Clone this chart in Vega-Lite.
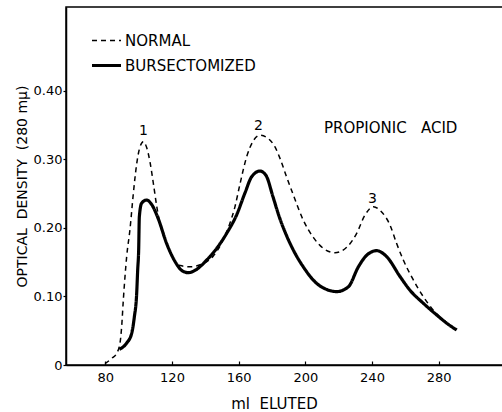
{
  "$schema": "https://vega.github.io/schema/vega-lite/v6.json",
  "width": 437,
  "height": 358,
  "autosize": {"type": "none"},
  "padding": {"left": 66, "top": 7, "right": 0, "bottom": 47},
  "background": "white",
  "config": {
    "view": {"stroke": "black", "strokeWidth": 1.5},
    "font": "DejaVu Sans",
    "axis": {"domainColor": "black", "domainWidth": 1.5, "tickColor": "black", "labelColor": "black", "titleColor": "black", "grid": false, "titleFontWeight": "normal", "labelFont": "DejaVu Sans", "titleFont": "DejaVu Sans"}
  },
  "datasets": {
    "curves": [
      {"ml": 79.8, "od": 0.002, "series": "NORMAL"},
      {"ml": 84.0, "od": 0.010, "series": "NORMAL"},
      {"ml": 86.8, "od": 0.017, "series": "NORMAL"},
      {"ml": 88.8, "od": 0.032, "series": "NORMAL"},
      {"ml": 89.8, "od": 0.056, "series": "NORMAL"},
      {"ml": 90.8, "od": 0.095, "series": "NORMAL"},
      {"ml": 91.8, "od": 0.129, "series": "NORMAL"},
      {"ml": 92.8, "od": 0.158, "series": "NORMAL"},
      {"ml": 94.8, "od": 0.198, "series": "NORMAL"},
      {"ml": 96.8, "od": 0.250, "series": "NORMAL"},
      {"ml": 98.8, "od": 0.293, "series": "NORMAL"},
      {"ml": 100.8, "od": 0.318, "series": "NORMAL"},
      {"ml": 102.8, "od": 0.3255, "series": "NORMAL"},
      {"ml": 104.8, "od": 0.317, "series": "NORMAL"},
      {"ml": 106.8, "od": 0.296, "series": "NORMAL"},
      {"ml": 108.8, "od": 0.265, "series": "NORMAL"},
      {"ml": 110.8, "od": 0.232, "series": "NORMAL"},
      {"ml": 112.5, "od": 0.209, "series": "NORMAL"},
      {"ml": 116.8, "od": 0.177, "series": "NORMAL"},
      {"ml": 121.8, "od": 0.151, "series": "NORMAL"},
      {"ml": 125.0, "od": 0.145, "series": "NORMAL"},
      {"ml": 130.8, "od": 0.1433, "series": "NORMAL"},
      {"ml": 138.8, "od": 0.148, "series": "NORMAL"},
      {"ml": 144.8, "od": 0.159, "series": "NORMAL"},
      {"ml": 149.8, "od": 0.178, "series": "NORMAL"},
      {"ml": 154.8, "od": 0.207, "series": "NORMAL"},
      {"ml": 157.8, "od": 0.231, "series": "NORMAL"},
      {"ml": 160.8, "od": 0.264, "series": "NORMAL"},
      {"ml": 164.8, "od": 0.3036, "series": "NORMAL"},
      {"ml": 168.8, "od": 0.327, "series": "NORMAL"},
      {"ml": 172.8, "od": 0.335, "series": "NORMAL"},
      {"ml": 177.8, "od": 0.330, "series": "NORMAL"},
      {"ml": 181.8, "od": 0.318, "series": "NORMAL"},
      {"ml": 185.0, "od": 0.300, "series": "NORMAL"},
      {"ml": 188.5, "od": 0.276, "series": "NORMAL"},
      {"ml": 192.8, "od": 0.248, "series": "NORMAL"},
      {"ml": 198.8, "od": 0.211, "series": "NORMAL"},
      {"ml": 204.8, "od": 0.186, "series": "NORMAL"},
      {"ml": 210.8, "od": 0.170, "series": "NORMAL"},
      {"ml": 217.8, "od": 0.1637, "series": "NORMAL"},
      {"ml": 224.8, "od": 0.1716, "series": "NORMAL"},
      {"ml": 230.8, "od": 0.192, "series": "NORMAL"},
      {"ml": 235.8, "od": 0.2187, "series": "NORMAL"},
      {"ml": 240.8, "od": 0.2308, "series": "NORMAL"},
      {"ml": 245.0, "od": 0.225, "series": "NORMAL"},
      {"ml": 250.8, "od": 0.204, "series": "NORMAL"},
      {"ml": 254.8, "od": 0.177, "series": "NORMAL"},
      {"ml": 258.8, "od": 0.153, "series": "NORMAL"},
      {"ml": 264.8, "od": 0.124, "series": "NORMAL"},
      {"ml": 270.8, "od": 0.0996, "series": "NORMAL"},
      {"ml": 276.8, "od": 0.080, "series": "NORMAL"},
      {"ml": 282.8, "od": 0.0656, "series": "NORMAL"},
      {"ml": 289.8, "od": 0.052, "series": "NORMAL"},
      {"ml": 88.4, "od": 0.023, "series": "BURSECTOMIZED"},
      {"ml": 92.8, "od": 0.032, "series": "BURSECTOMIZED"},
      {"ml": 95.8, "od": 0.046, "series": "BURSECTOMIZED"},
      {"ml": 97.4, "od": 0.070, "series": "BURSECTOMIZED"},
      {"ml": 98.8, "od": 0.104, "series": "BURSECTOMIZED"},
      {"ml": 99.4, "od": 0.138, "series": "BURSECTOMIZED"},
      {"ml": 100.0, "od": 0.168, "series": "BURSECTOMIZED"},
      {"ml": 100.4, "od": 0.216, "series": "BURSECTOMIZED"},
      {"ml": 101.8, "od": 0.236, "series": "BURSECTOMIZED"},
      {"ml": 104.8, "od": 0.2405, "series": "BURSECTOMIZED"},
      {"ml": 107.8, "od": 0.234, "series": "BURSECTOMIZED"},
      {"ml": 111.8, "od": 0.213, "series": "BURSECTOMIZED"},
      {"ml": 116.8, "od": 0.177, "series": "BURSECTOMIZED"},
      {"ml": 121.8, "od": 0.151, "series": "BURSECTOMIZED"},
      {"ml": 125.8, "od": 0.138, "series": "BURSECTOMIZED"},
      {"ml": 129.8, "od": 0.1346, "series": "BURSECTOMIZED"},
      {"ml": 134.8, "od": 0.1395, "series": "BURSECTOMIZED"},
      {"ml": 140.8, "od": 0.153, "series": "BURSECTOMIZED"},
      {"ml": 146.8, "od": 0.170, "series": "BURSECTOMIZED"},
      {"ml": 152.8, "od": 0.192, "series": "BURSECTOMIZED"},
      {"ml": 158.8, "od": 0.219, "series": "BURSECTOMIZED"},
      {"ml": 163.8, "od": 0.251, "series": "BURSECTOMIZED"},
      {"ml": 167.8, "od": 0.2745, "series": "BURSECTOMIZED"},
      {"ml": 172.8, "od": 0.2828, "series": "BURSECTOMIZED"},
      {"ml": 176.5, "od": 0.276, "series": "BURSECTOMIZED"},
      {"ml": 180.5, "od": 0.246, "series": "BURSECTOMIZED"},
      {"ml": 184.5, "od": 0.215, "series": "BURSECTOMIZED"},
      {"ml": 188.5, "od": 0.190, "series": "BURSECTOMIZED"},
      {"ml": 192.5, "od": 0.169, "series": "BURSECTOMIZED"},
      {"ml": 198.8, "od": 0.143, "series": "BURSECTOMIZED"},
      {"ml": 206.8, "od": 0.119, "series": "BURSECTOMIZED"},
      {"ml": 212.0, "od": 0.111, "series": "BURSECTOMIZED"},
      {"ml": 218.8, "od": 0.107, "series": "BURSECTOMIZED"},
      {"ml": 225.8, "od": 0.114, "series": "BURSECTOMIZED"},
      {"ml": 231.8, "od": 0.143, "series": "BURSECTOMIZED"},
      {"ml": 236.8, "od": 0.160, "series": "BURSECTOMIZED"},
      {"ml": 242.8, "od": 0.1667, "series": "BURSECTOMIZED"},
      {"ml": 248.8, "od": 0.158, "series": "BURSECTOMIZED"},
      {"ml": 256.8, "od": 0.129, "series": "BURSECTOMIZED"},
      {"ml": 262.8, "od": 0.109, "series": "BURSECTOMIZED"},
      {"ml": 270.8, "od": 0.090, "series": "BURSECTOMIZED"},
      {"ml": 278.8, "od": 0.073, "series": "BURSECTOMIZED"},
      {"ml": 284.8, "od": 0.061, "series": "BURSECTOMIZED"},
      {"ml": 290.8, "od": 0.051, "series": "BURSECTOMIZED"}
    ],
    "notes": [
      {"ml": 102.8, "od": 0.341, "label": "1"},
      {"ml": 171.8, "od": 0.348, "label": "2"},
      {"ml": 240.2, "od": 0.2415, "label": "3"}
    ]
  },
  "layer": [
    {
      "data": {"name": "curves"},
      "mark": {"type": "line", "interpolate": "monotone", "color": "black", "strokeCap": "butt"},
      "encoding": {
        "x": {"field": "ml", "type": "quantitative", "scale": {"domain": [56.4, 318.6], "nice": false, "zero": false},
          "axis": {"values": [80, 120, 160, 200, 240, 280], "labelFontSize": 13, "tickSize": -4, "tickWidth": 1.2, "labelPadding": 10,
            "title": "ml\u00a0\u00a0ELUTED", "titleFontSize": 15, "titleX": 208, "titleY": 38, "titleBaseline": "middle", "titleAnchor": "middle", "titleAlign": "center"}},
        "y": {"field": "od", "type": "quantitative", "scale": {"domain": [0, 0.522], "nice": false},
          "axis": {"values": [0, 0.1, 0.2, 0.3, 0.4], "labelExpr": "datum.value == 0 ? '0' : format(datum.value, '.2f')", "labelFontSize": 13, "tickSize": 3, "tickWidth": 1.2, "labelPadding": 1,
            "title": "OPTICAL\u00a0\u00a0DENSITY\u00a0\u00a0(280 mμ)", "titleFontSize": 14, "titleX": -44, "titleY": 179, "titleAngle": -90, "titleBaseline": "middle", "titleAlign": "center", "titleAnchor": "middle"}},
        "strokeDash": {"field": "series", "type": "nominal",
          "scale": {"domain": ["NORMAL", "BURSECTOMIZED"], "range": [[5, 4], [1, 0]]},
          "legend": {"orient": "none", "legendX": 24, "legendY": 18, "title": null, "labelFontSize": 15, "labelColor": "black", "labelFont": "DejaVu Sans", "symbolType": "stroke", "symbolStrokeColor": "black", "symbolSize": 841, "labelOffset": 2, "padding": 0, "rowPadding": 0}},
        "strokeWidth": {"field": "series", "type": "nominal",
          "scale": {"type": "ordinal", "domain": ["NORMAL", "BURSECTOMIZED"], "range": [1.5, 3.2]},
          "legend": {"orient": "none", "legendX": 24, "legendY": 18, "title": null, "labelFontSize": 15, "labelColor": "black", "labelFont": "DejaVu Sans", "symbolType": "stroke", "symbolStrokeColor": "black", "symbolSize": 841, "labelOffset": 2, "padding": 0, "rowPadding": 0}}
      }
    },
    {
      "data": {"name": "notes"},
      "mark": {"type": "text", "color": "black", "font": "DejaVu Sans", "fontSize": 14, "baseline": "middle", "align": "center"},
      "encoding": {
        "x": {"field": "ml", "type": "quantitative"},
        "y": {"field": "od", "type": "quantitative"},
        "text": {"field": "label"}
      }
    },
    {
      "data": {"values": [{"ml": 211.2, "od": 0.345, "label": "PROPIONIC\u00a0\u00a0\u00a0ACID"}]},
      "mark": {"type": "text", "color": "black", "font": "DejaVu Sans", "fontSize": 15, "baseline": "middle", "align": "left"},
      "encoding": {
        "x": {"field": "ml", "type": "quantitative"},
        "y": {"field": "od", "type": "quantitative"},
        "text": {"field": "label"}
      }
    }
  ]
}
